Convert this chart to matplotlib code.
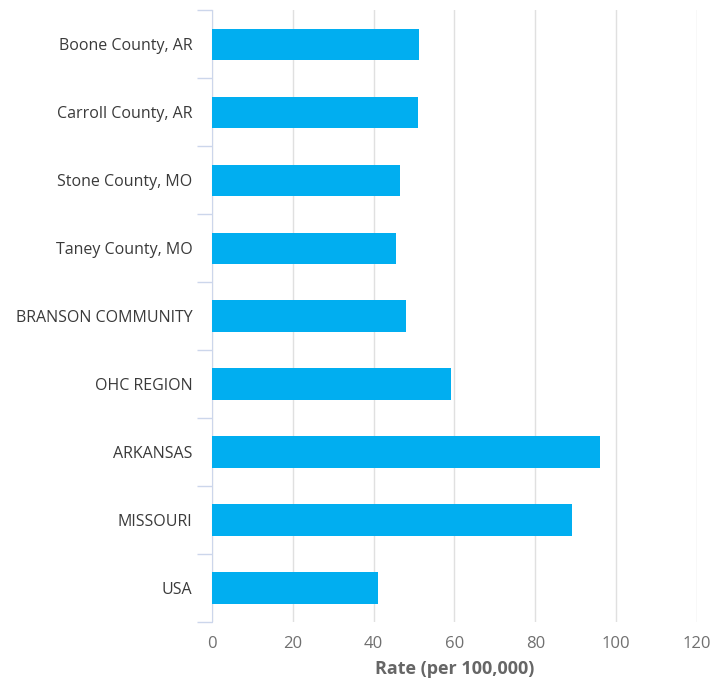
import matplotlib.pyplot as plt
import numpy as np

categories = [
    "Boone County, AR",
    "Carroll County, AR",
    "Stone County, MO",
    "Taney County, MO",
    "BRANSON COMMUNITY",
    "OHC REGION",
    "ARKANSAS",
    "MISSOURI",
    "USA",
]
rates = [51.3, 50.9, 46.6, 45.6, 48.1, 59.2, 96.1, 89.0, 41.0]
x_ticks = [0, 20, 40, 60, 80, 100, 120]

plt.rcParams["font.family"] = ["Open Sans", "DejaVu Sans"]

fig = plt.figure(figsize=(7.14, 6.85), dpi=100)
ax = fig.add_axes([0.297, 0.092, 0.679, 0.893])

y = np.arange(len(categories))
ax.barh(y, rates, height=0.46, color="#01aef0", zorder=3)

ax.set_ylim(len(categories) - 0.5, -0.5)
ax.set_xlim(0, 120)
ax.set_yticks(y)
ax.set_yticklabels(categories)
ax.set_yticks(np.arange(len(categories) + 1) - 0.5, minor=True)
ax.tick_params(axis="y", which="major", length=0, pad=14, labelsize=11.5, labelcolor="#3a3a3a")
ax.tick_params(axis="y", which="minor", length=11, color="#ccd6eb", width=1)

ax.set_xticks(x_ticks)
ax.tick_params(axis="x", length=0, pad=10, labelsize=12, labelcolor="#707070")
ax.grid(axis="x", color="#e0e0e0", linewidth=1, zorder=0)

for side in ("top", "right", "bottom"):
    ax.spines[side].set_visible(False)
ax.spines["left"].set_color("#ccd6eb")

ax.set_xlabel("Rate (per 100,000)", fontsize=13, color="#666666", fontweight="bold", labelpad=6)

fig.savefig("out.png", dpi=100)
